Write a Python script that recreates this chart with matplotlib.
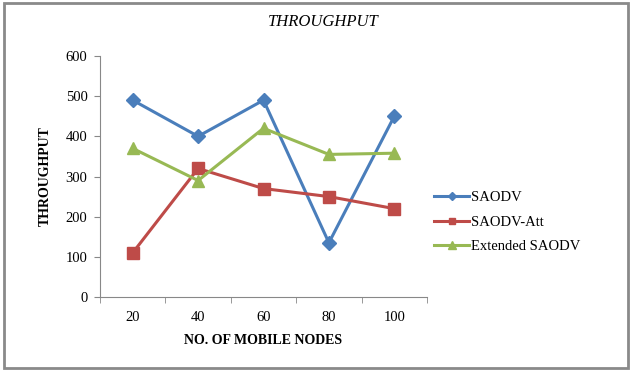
import matplotlib
matplotlib.use("Agg")
import matplotlib.pyplot as plt
from matplotlib.patches import Rectangle

categories = ["20", "40", "60", "80", "100"]
saodv = [490, 400, 490, 135, 450]
saodv_att = [110, 320, 270, 250, 220]
ext_saodv = [370, 290, 420, 355, 358]
yticks = [0, 100, 200, 300, 400, 500, 600]

plt.rcParams['font.family'] = ['Liberation Serif', 'DejaVu Serif']

fig = plt.figure(figsize=(6.32, 3.72), dpi=100)
ax = fig.add_axes([100/632, 1-297/372, 327/632, 241/372])

x = list(range(len(categories)))
ax.plot(x, saodv, color='#4A7EBB', lw=2.2, marker='D', ms=7, label='SAODV')
ax.plot(x, saodv_att, color='#BE4B48', lw=2.2, marker='s', ms=8, label='SAODV-Att')
ax.plot(x, ext_saodv, color='#98B954', lw=2.2, marker='^', ms=9, label='Extended SAODV')

ax.set_xlim(-0.5, len(categories)-0.5)
ax.set_ylim(0, 600)
ax.set_yticks(yticks)
ax.set_xticks(x)
ax.set_xticklabels(categories)
ax.set_xticks([i+0.5 for i in range(-1, len(categories))], minor=True)
ax.tick_params(axis='x', which='major', length=0, labelsize=10.5, pad=10)
ax.tick_params(axis='x', which='minor', length=4, color='#888888')
ax.tick_params(axis='y', length=4, color='#888888', labelsize=10.5, pad=5)
for s in ['top', 'right']:
    ax.spines[s].set_visible(False)
for s in ['left', 'bottom']:
    ax.spines[s].set_color('#888888')
    ax.spines[s].set_linewidth(0.8)

ax.set_ylabel('THROUGHPUT', fontsize=10, fontweight='bold', labelpad=10)
ax.set_xlabel('NO. OF MOBILE NODES', fontsize=10, fontweight='bold', labelpad=7)
fig.text(323/632, 1-22/372, 'THROUGHPUT', ha='center', va='center',
         fontsize=12, style='italic')

leg = ax.legend(loc='center left', bbox_to_anchor=((421-100)/327, (297-222)/241),
                frameon=False, fontsize=10.5, handlelength=2.4, handletextpad=0.1,
                labelspacing=0.75, markerscale=0.6)

fig.patches.append(Rectangle((4/632, 4/372), 624/632, 365/372, transform=fig.transFigure,
                             fill=False, edgecolor='#8a8a8a', lw=2))

fig.savefig('out.png', dpi=100)
